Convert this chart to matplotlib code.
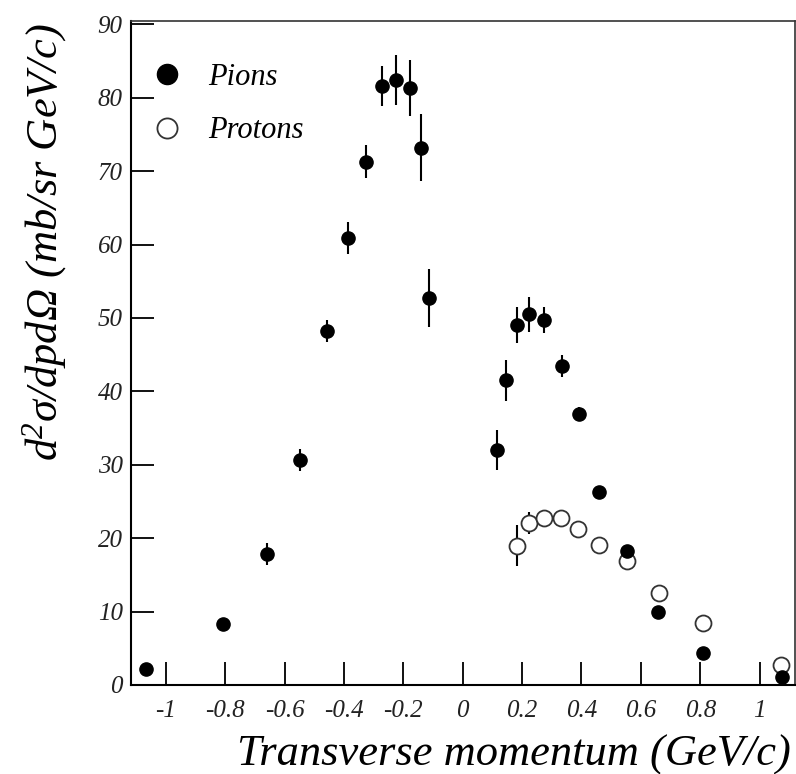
"""
Pion / proton double-differential cross section vs transverse momentum.
"""
import matplotlib
matplotlib.use("Agg")
import matplotlib.pyplot as plt
from matplotlib.lines import Line2D

# pions (filled)
pion_pt = [-1.066, -0.807, -0.658, -0.548, -0.456, -0.387, -0.327, -0.271,
           -0.226, -0.177, -0.141, -0.112, 0.114, 0.146, 0.184, 0.224,
           0.274, 0.333, 0.393, 0.460, 0.552, 0.659, 0.808, 1.074]
pion_xs = [2.2, 8.3, 17.8, 30.6, 48.2, 60.9, 71.3, 81.6,
           82.4, 81.3, 73.2, 52.7, 32.0, 41.5, 49.0, 50.5,
           49.7, 43.4, 36.9, 26.3, 18.3, 10.0, 4.3, 1.1]
pion_err = [0.0, 0.0, 1.5, 1.5, 1.5, 2.2, 2.2, 2.7,
            3.4, 3.8, 4.6, 3.9, 2.7, 2.8, 2.45, 2.4,
            1.8, 1.5, 1.0, 0.7, 0.8, 0.0, 0.0, 0.0]

# protons (open)
proton_pt = [0.184, 0.224, 0.274, 0.332, 0.389, 0.460, 0.554, 0.662, 0.808, 1.072]
proton_xs = [19.0, 22.1, 22.7, 22.7, 21.2, 19.1, 16.9, 12.5, 8.4, 2.7]
proton_err = [2.8, 1.5, 0.0, 0.0, 0.0, 0.0, 0.0, 0.0, 0.0, 0.0]

xticks = [-1, -0.8, -0.6, -0.4, -0.2, 0, 0.2, 0.4, 0.6, 0.8, 1]
xtick_labels = ["-1", "-0.8", "-0.6", "-0.4", "-0.2", "0", "0.2", "0.4", "0.6", "0.8", "1"]
yticks = [0, 10, 20, 30, 40, 50, 60, 70, 80, 90]

SERIF = ["Liberation Serif", "DejaVu Serif"]

plt.rcParams["font.family"] = SERIF
plt.rcParams["font.style"] = "italic"
plt.rcParams["mathtext.fontset"] = "custom"
plt.rcParams["mathtext.rm"] = "Liberation Serif:italic"
plt.rcParams["mathtext.it"] = "Liberation Serif:italic"
plt.rcParams["mathtext.default"] = "it"

fig = plt.figure(figsize=(7.96, 7.74), dpi=100)
ax = fig.add_axes([0.1646, 0.115, 0.834, 0.858])

ax.errorbar(proton_pt, proton_xs, yerr=proton_err, fmt="o", ms=11.5,
            mfc="white", mec="#333333", mew=1.3, ecolor="black",
            elinewidth=1.5, capsize=0, zorder=2)
ax.errorbar(pion_pt, pion_xs, yerr=pion_err, fmt="o", ms=9.5,
            color="black", ecolor="black", elinewidth=1.5, capsize=0, zorder=3)

ax.set_xlim(-1.117, 1.119)
ax.set_ylim(0, 90.46)
ax.set_xticks(xticks)
ax.set_xticklabels(xtick_labels)
ax.set_yticks(yticks)

ax.tick_params(direction="in", length=16.5, width=1.4, labelsize=18,
               color="#111111")
ax.tick_params(axis="x", pad=11)
ax.tick_params(axis="y", pad=6)
for lab in ax.get_xticklabels() + ax.get_yticklabels():
    lab.set_fontstyle("italic")
    lab.set_color("#222222")

for side in ["left", "bottom"]:
    ax.spines[side].set_linewidth(1.5)
for side in ["top", "right"]:
    ax.spines[side].set_linewidth(1.2)
    ax.spines[side].set_color("#333333")

ax.set_xlabel("Transverse momentum (GeV/c)", fontsize=32, style="italic")
ax.xaxis.set_label_coords(0.577, -0.075)
ax.set_ylabel("d$^{2}$\u03c3/dpd\u03a9 (mb/sr GeV/c)", fontsize=32, style="italic")
ax.yaxis.set_label_coords(-0.093, 0.666)

handles = [
    Line2D([], [], ls="none", marker="o", ms=14.5, color="black"),
    Line2D([], [], ls="none", marker="o", ms=14.5, mfc="white",
           mec="#333333", mew=1.3),
]
ax.legend(handles, ["Pions", "Protons"], loc="upper left",
          bbox_to_anchor=(0.031, 0.937), frameon=False, fontsize=22,
          handlelength=1.0, handletextpad=0.84, labelspacing=0.81,
          borderaxespad=0, borderpad=0)

fig.savefig("out.png", dpi=100)
